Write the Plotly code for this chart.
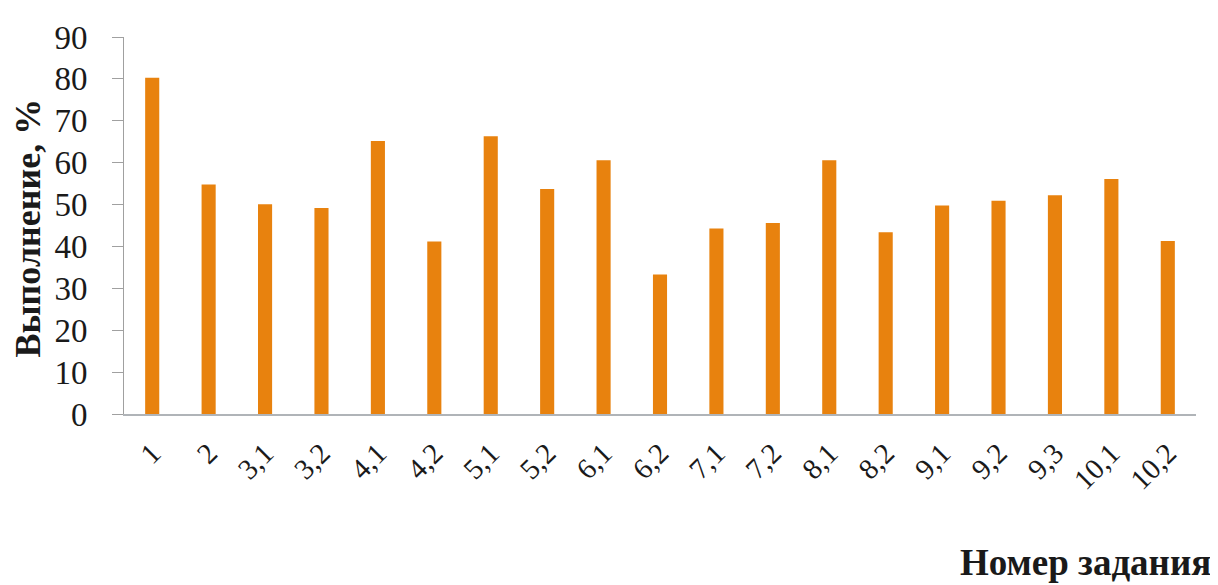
import plotly.graph_objects as go

categories = ["1", "2", "3,1", "3,2", "4,1", "4,2", "5,1", "5,2", "6,1", "6,2",
              "7,1", "7,2", "8,1", "8,2", "9,1", "9,2", "9,3", "10,1", "10,2"]
values = [80.3, 54.8, 50.1, 49.2, 65.2, 41.2, 66.3, 53.7, 60.6, 33.3,
          44.3, 45.6, 60.6, 43.4, 49.8, 50.9, 52.2, 56.1, 41.3]
y_ticks = [0, 10, 20, 30, 40, 50, 60, 70, 80, 90]
y_title = "Выполнение, %"
x_title = "Номер задания"

SERIF = "Liberation Serif, Times New Roman, serif"

fig = go.Figure()
fig.add_trace(go.Bar(
    x=categories, y=values,
    marker=dict(color="#E8820E", line=dict(width=0)),
    width=0.25,
    showlegend=False,
))

fig.update_layout(
    width=1210, height=577,
    margin=dict(l=116, r=22, t=23, b=171),
    paper_bgcolor="white", plot_bgcolor="white",
    font=dict(family=SERIF, color="#1a1a1a"),
    xaxis=dict(
        type="category",
        range=[-0.5, 18.5],
        showline=True, linecolor="#B0B4B8", linewidth=1.5,
        showgrid=False, ticks="",
        tickangle=-45,
        ticklabelstandoff=9,
        tickfont=dict(size=29, family=SERIF),
    ),
    yaxis=dict(
        range=[0, 90],
        tickvals=y_ticks,
        showline=True, linecolor="#A0A0A0", linewidth=1,
        showgrid=False, zeroline=False,
        ticks="outside", ticklen=11, tickcolor="#A0A0A0",
        ticklabelstandoff=18,
        tickfont=dict(size=33, family=SERIF),
    ),
    annotations=[
        dict(
            text="<b>" + y_title + "</b>", xref="paper", yref="paper",
            x=0, y=0.5, xanchor="center", yanchor="middle",
            xshift=-97, yshift=-3, textangle=-90,
            showarrow=False, font=dict(size=36, family=SERIF),
        ),
        dict(
            text="<b>" + x_title + "</b>", xref="paper", yref="paper",
            x=1.0, y=0, xanchor="right", yanchor="middle",
            xshift=17, yshift=-148,
            showarrow=False, font=dict(size=37, family=SERIF),
        ),
    ],
)

fig.write_html("out.html")
